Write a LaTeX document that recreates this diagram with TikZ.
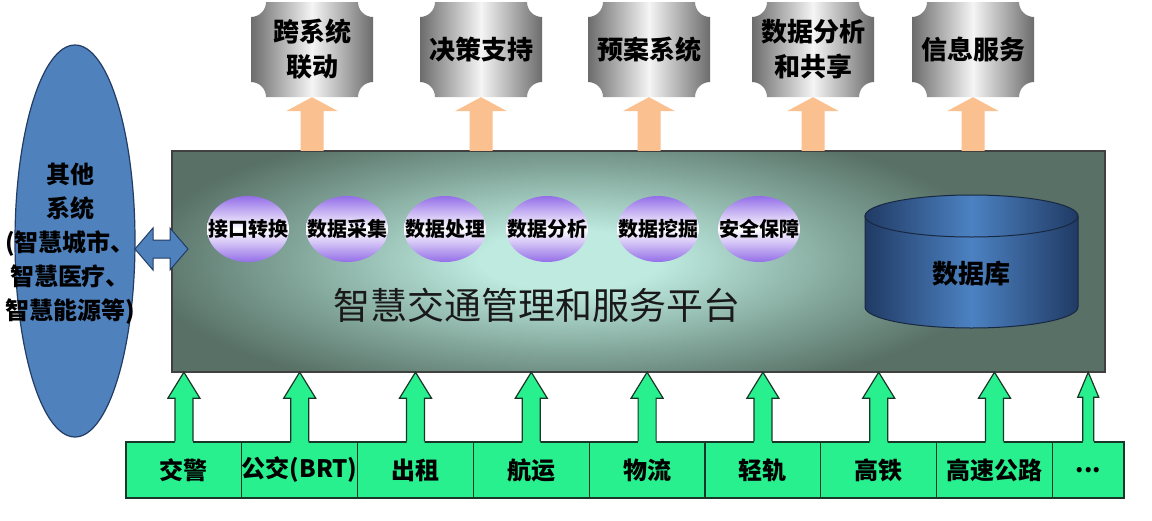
\documentclass[tikz,border=0pt]{standalone}
\usepackage{fontspec}
\setmainfont{Noto Sans CJK SC}
\usetikzlibrary{shapes.geometric, calc, positioning}

\definecolor{arrorange}{RGB}{250,192,143}
\definecolor{srcgreen}{RGB}{40,240,142}
\definecolor{srcline}{RGB}{25,55,40}
\definecolor{sysblue}{RGB}{79,129,189}
\definecolor{sysline}{RGB}{35,60,100}
\definecolor{platdark}{RGB}{88,112,102}
\definecolor{platmid}{RGB}{132,168,156}
\definecolor{platlight}{RGB}{190,234,224}
\definecolor{funcpurple}{RGB}{148,110,232}
\definecolor{dbdark}{RGB}{32,58,100}
\definecolor{dblight}{RGB}{76,130,194}
\definecolor{dbline}{RGB}{25,40,65}
\definecolor{plaquegray}{RGB}{108,108,108}

\pgfdeclareradialshading{platshade}{\pgfpoint{0bp}{0bp}}{%
  color(0bp)=(platlight); color(9bp)=(platlight); color(27bp)=(platmid);
  color(43bp)=(platdark); color(50bp)=(platdark)}

% fat arrow: fill, outline, base, tip, half head, half shaft, head length, overlap
\newcommand\fatarrow[8]{%
  \fill[#1] let \p1=(#3), \p2=(#4) in (\p2) -- (\x2+#5pt,\y2-#7pt) -- (\x2+#6pt,\y2-#7pt)
    -- (\x2+#6pt,\y1-#8pt) -- (\x2-#6pt,\y1-#8pt) -- (\x2-#6pt,\y2-#7pt) -- (\x2-#5pt,\y2-#7pt) -- cycle;
  \draw[#2] let \p1=(#3), \p2=(#4) in (\x2+#6pt,\y1) -- (\x2+#6pt,\y2-#7pt) -- (\x2+#5pt,\y2-#7pt)
    -- (\p2) -- (\x2-#5pt,\y2-#7pt) -- (\x2-#6pt,\y2-#7pt) -- (\x2-#6pt,\y1);}

% grey plate with hollow corners, #1 = centre x
\newcommand\plaqueshape[1]{%
  \shade[plaque] ({#1-46},2) -- ({#1+46},2) arc[start angle=180, end angle=90, radius=15]
    -- ({#1+61},82) arc[start angle=270, end angle=180, radius=15]
    -- ({#1-46},97) arc[start angle=0, end angle=-90, radius=15]
    -- ({#1-61},17) arc[start angle=90, end angle=0, radius=15] -- cycle;}

\begin{document}
\begin{tikzpicture}[x=1pt, y=-1pt,
    platformbox/.style={fill=platdark, minimum width=933pt, minimum height=221pt},
    platformedge/.style={draw=black!75, line width=1.5pt},
    plaque/.style={left color=plaquegray, right color=plaquegray, middle color=white!96!black},
    plaquetext/.style={minimum width=122pt, minimum height=95pt, align=center, font=\bfseries\fontsize{26}{35}\selectfont},
    func/.style={ellipse, minimum width=82pt, minimum height=66pt, inner sep=0pt, top color=funcpurple, bottom color=funcpurple, middle color=white},
    functext/.style={font=\bfseries\fontsize{20}{24}\selectfont},
    titletext/.style={font=\fontsize{37}{40}\selectfont, text=black!90},
    dbbody/.style={left color=dbdark, right color=dbdark, middle color=dblight, draw=dbline, line width=1pt},
    dbtext/.style={font=\bfseries\fontsize{26}{30}\selectfont},
    sysellipse/.style={ellipse, draw=sysline, line width=1.2pt, fill=sysblue, minimum width=120pt, minimum height=392pt},
    systext/.style={align=center, font=\bfseries\fontsize{24}{34}\selectfont},
    linkarrow/.style={fill=sysblue, draw=sysline, line width=1pt},
    srcbox/.style={draw=srcline, line width=1.2pt, fill=srcgreen, minimum width=115.8pt, minimum height=56pt, inner sep=0pt, font=\bfseries\fontsize{24}{28}\selectfont}
]
\fill[white] (0,0) rectangle (1152,520);
\useasboundingbox (0,0) rectangle (1152,520);

% Platform
\node[platformbox] (platform) at (638.5,261.5) {};
\begin{scope}
  \clip (platform.south west) rectangle (platform.north east);
  \begin{scope}[shift={(570,260)}, xscale=10, yscale=3.3]
    \pgflowlevelsynccm
    \pgftext{\pgfuseshading{platshade}}
  \end{scope}
\end{scope}
\draw[platformedge] (platform.south west) rectangle (platform.north east);
\node[titletext] (title) at (537,305) {智慧交通管理和服务平台};

% Services on top
\foreach \px/\ptxt [count=\i] in {312/{跨系统\\联动}, 481/决策支持, 649/预案系统, 813/{数据分析\\和共享}, 973/信息服务}{
  \plaqueshape{\px}
  \node[plaquetext] (p\i) at (\px,49.5) {\ptxt};
  \fatarrow{arrorange}{draw=none}{platform.north -| p\i.south}{p\i.south}{26}{11.5}{14}{0}
}

% Functions
\foreach \fx/\ftxt [count=\i] in {248/接口转换, 347/数据采集, 445/数据处理, 547/数据分析, 658/数据挖掘, 759/安全保障}
  \node[func, label={[functext]center:\ftxt}] (func\i) at (\fx,229) {};

% Database
\shade[dbbody] (865,216) -- (865,307) arc[start angle=180, end angle=0, x radius=106.5, y radius=21] -- (1078,216) -- cycle;
\shade[dbbody] (971.5,216) ellipse[x radius=106.5, y radius=21];
\node[dbtext] (db) at (971.5,274) {数据库};

% Other systems
\node[sysellipse] (other) at (75,241) {};
\node[systext] (othertext) at (70,244) {其他\\系统\\(智慧城市、\\智慧医疗、\\智慧能源等)};
\coordinate (linkL) at (135,249);
\filldraw[linkarrow] (linkL) -- ++(18,-21) -- ++(0,12) -- ++(17,0) -- ++(0,-12) -- ++(18,21)
  -- ++(-18,21) -- ++(0,-12) -- ++(-17,0) -- ++(0,12) -- cycle;

% Sources
\foreach \stxt [count=\i] in {交警, 公交(BRT), 出租, 航运, 物流, 轻轨, 高铁, 高速公路}
  \node[srcbox] (src\i) at ({126+115.8*(\i-0.5)},470) {\stxt};
\node[srcbox, minimum width=71.5pt] (src9) at (1088.25,470) {...};
\foreach \i in {1,...,8}{
  \fatarrow{srcgreen}{draw=srcline, line width=1.2pt}{src\i.north}{platform.south -| src\i.north}{16}{9}{26}{1.5}
}
\fatarrow{srcgreen}{draw=srcline, line width=1.2pt}{src9.north}{platform.south -| src9.north}{10.5}{5.5}{25}{1.5}

\end{tikzpicture}
\end{document}
